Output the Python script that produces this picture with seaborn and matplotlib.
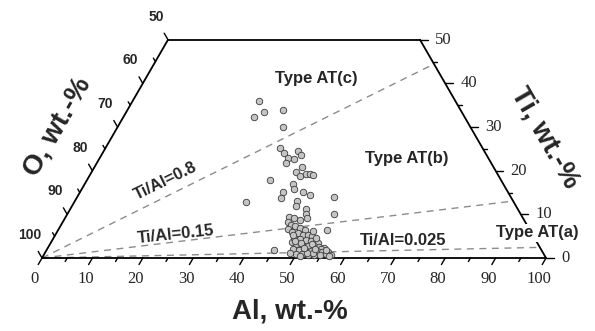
import numpy as np
import pandas as pd
import matplotlib
matplotlib.use("Agg")
import matplotlib.pyplot as plt
import seaborn as sns

# Al and Ti contents (wt.-%) of the measured particles, O is the rest
al = [25.1, 27.3, 25.9, 30.9, 32.8, 34.6, 36.0, 38.5, 39.6, 37.4,
      38.6, 37.5, 41.2, 40.5, 41.8, 42.8, 43.6, 44.3, 36.3, 41.3,
      42.1, 40.3, 44.2, 46.0, 40.5, 44.1, 51.0, 34.1, 44.4, 46.8,
      47.3, 52.9, 44.3, 45.4, 46.8, 44.7, 45.6, 45.5, 53.3, 45.1,
      47.8, 48.0,
      46.5, 47.8, 49.0, 46.6, 47.9, 49.2, 50.1, 51.0, 47.7, 49.0,
      50.3, 51.4, 52.5, 53.0, 48.8, 50.1, 51.4, 52.6, 53.7, 54.8,
      54.3, 48.8, 50.1, 51.3, 52.6, 53.8, 54.9, 56.1, 49.9, 51.1,
      52.4, 53.6, 54.8, 55.9, 57.0, 48.6, 53.2, 51.0, 52.0,
      48.2, 49.6, 50.7, 51.9, 53.1, 55.4, 47.3, 50.6, 52.0, 56.6]
ti = [36.0, 33.4, 32.3, 33.9, 30.0, 25.2, 24.1, 24.5, 23.6, 22.9,
      22.7, 21.8, 20.9, 19.7, 18.8, 19.2, 19.2, 19.0, 17.9, 17.0,
      15.8, 15.1, 15.1, 14.4, 13.8, 13.1, 14.0, 12.8, 11.9, 11.2,
      10.1, 10.1, 9.4, 9.2, 8.7, 8.3, 7.6, 6.6, 6.4, 1.8,
      3.7, 9.2,
      7.3, 6.9, 6.4, 6.0, 5.7, 5.3, 5.3, 5.0, 4.6, 4.4,
      4.1, 3.9, 3.7, 3.4, 3.2, 3.0, 2.8, 2.8, 2.5, 2.3,
      2.1, 2.1, 1.8, 1.8, 1.6, 1.6, 1.4, 1.4, 0.9, 0.9,
      0.7, 0.7, 0.7, 0.9, 0.7, 1.2, 1.2, 0.5, 1.2,
      3.9, 3.4, 2.4, 3.3, 2.0, 1.9, 5.2, 6.2, 4.6, 0.5]

ratios = [0.8, 0.15, 0.025]
ratio_labels = ['Ti/Al=0.8', 'Ti/Al=0.15', 'Ti/Al=0.025']
al_ticks = list(range(0, 101, 10))
o_ticks = [50, 60, 70, 80, 90, 100]
ti_ticks = [0, 10, 20, 30, 40, 50]

h = np.sqrt(3) / 2


def xy(a, t):
    # ternary (Al, Ti) -> cartesian, O corner at origin
    return a + t / 2, t * h


df = pd.DataFrame({'Al': al, 'Ti': ti})
df['x'], df['y'] = xy(df['Al'], df['Ti'])

sns.set_style("white")
plt.rcParams['font.family'] = ['Liberation Sans', 'DejaVu Sans']

fig = plt.figure(figsize=(5.95, 3.31), dpi=100)
ax = fig.add_axes([0, 0, 1, 1])

# frame of the truncated triangle
tl = xy(0, 50)
tr = xy(50, 50)
for p, q in [((0, 0), (100, 0)), ((100, 0), tr), (tl, tr), ((0, 0), tl)]:
    ax.plot([p[0], q[0]], [p[1], q[1]], color='black', lw=1.3, zorder=3)

# ticks
serif = 'Liberation Serif'
for v in range(0, 101, 5):
    x0, y0 = xy(v, 0)
    L = 1.5 if v % 10 == 0 else 0.8
    ax.plot([x0, x0 - 0.5 * L], [y0, y0 - h * L], color='black', lw=1, zorder=3)
for v in range(50, 101, 5):
    x0, y0 = xy(0, 100 - v)
    L = 1.5 if v % 10 == 0 else 0.8
    ax.plot([x0, x0 - 0.5 * L], [y0, y0 + h * L], color='black', lw=1, zorder=3)
for v in range(0, 51, 5):
    x0, y0 = xy(100 - v, v)
    L = 1.5 if v % 10 == 0 else 0.8
    ax.plot([x0, x0 + L], [y0, y0], color='black', lw=1, zorder=3)

for v in al_ticks:
    x0, y0 = xy(v, 0)
    ax.text(x0 - 1.4, y0 - 4.2, str(v), ha='center', va='center',
            fontsize=12, family=serif)
for v in o_ticks:
    x0, y0 = xy(0, 100 - v)
    ax.text(x0 - 2.4, y0 + 4.6, str(v), ha='center', va='center',
            fontsize=10, fontweight='bold')
for v in ti_ticks:
    x0, y0 = xy(100 - v, v)
    ax.text(x0 + 3.0, y0, str(v), ha='left', va='center',
            fontsize=12, family=serif)

# Ti/Al ratio lines from the O corner
for r in ratios:
    xe, ye = xy(100 / (1 + r), 100 * r / (1 + r))
    ax.plot([0, xe], [0, ye], color='#8c8c8c', lw=1, ls=(0, (5, 4)), zorder=1)

sns.scatterplot(data=df, x='x', y='y', ax=ax, s=22, color='#c4c4c4',
                edgecolor='#3a3a3a', linewidth=0.6, zorder=4, legend=False)
ax.set_xlim(-8.33, 109.72)
ax.set_ylim(-14.48, 51.19)
ax.axis('off')

ax.text(24.6, 15.3, ratio_labels[0], rotation=26, ha='center', va='center',
        fontsize=12, fontweight='bold')
ax.text(26.6, 4.7, ratio_labels[1], rotation=6, ha='center', va='center',
        fontsize=12, fontweight='bold')
ax.text(71.6, 3.4, ratio_labels[2], rotation=0, ha='center', va='center',
        fontsize=12, fontweight='bold')

ax.text(54.4, 35.7, 'Type AT(c)', ha='center', va='center', fontsize=12, fontweight='bold')
ax.text(72.4, 19.8, 'Type AT(b)', ha='center', va='center', fontsize=12, fontweight='bold')
ax.text(98.2, 5.0, 'Type AT(a)', ha='center', va='center', fontsize=12, fontweight='bold',
        zorder=5, bbox=dict(facecolor='white', edgecolor='none', pad=1))

ax.text(49.2, -10.7, 'Al, wt.-%', ha='center', va='center', fontsize=20, fontweight='bold')
ax.text(3.0, 26.0, 'O, wt.-%', rotation=60, ha='center', va='center',
        fontsize=20, fontweight='bold')
ax.text(99.8, 23.8, 'Ti, wt.-%', rotation=-60, ha='center', va='center',
        fontsize=20, fontweight='bold')

fig.savefig('out.png', dpi=100)
